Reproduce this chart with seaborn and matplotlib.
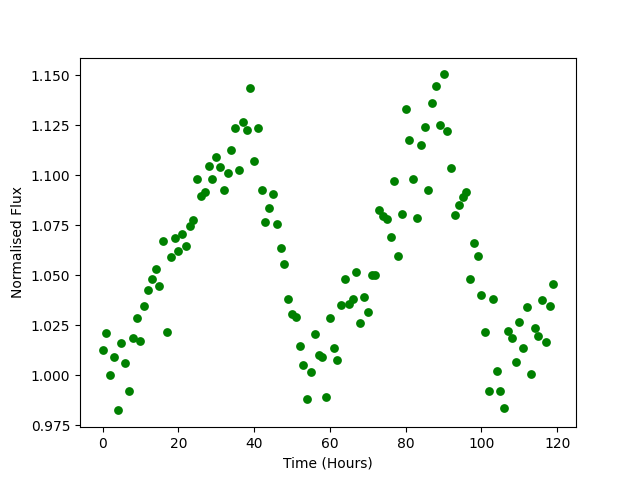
import matplotlib
matplotlib.use("Agg")
import matplotlib.pyplot as plt
import seaborn as sns
import pandas as pd

hours = list(range(120))
flux = [
    1.0125, 1.0213, 1.0000, 1.0090, 0.9825, 1.0163, 1.0060, 0.9920, 1.0185, 1.0285,
    1.0170, 1.0348, 1.0425, 1.0480, 1.0533, 1.0448, 1.0670, 1.0215, 1.0590, 1.0685,
    1.0623, 1.0705, 1.0645, 1.0748, 1.0775, 1.0980, 1.0897, 1.0918, 1.1048, 1.0980,
    1.1088, 1.1043, 1.0925, 1.1013, 1.1123, 1.1233, 1.1028, 1.1263, 1.1223, 1.1433,
    1.1073, 1.1233, 1.0928, 1.0768, 1.0838, 1.0908, 1.0758, 1.0638, 1.0558, 1.0383,
    1.0308, 1.0292, 1.0148, 1.0053, 0.9883, 1.0018, 1.0208, 1.0103, 1.0093, 0.9893,
    1.0288, 1.0138, 1.0078, 1.0353, 1.0483, 1.0358, 1.0383, 1.0518, 1.0263, 1.0393,
    1.0318, 1.0503, 1.0503, 1.0828, 1.0798, 1.0783, 1.0693, 1.0973, 1.0598, 1.0808,
    1.1328, 1.1173, 1.0983, 1.0788, 1.1148, 1.1238, 1.0928, 1.1358, 1.1443, 1.1248,
    1.1503, 1.1218, 1.1038, 1.0803, 1.0853, 1.0893, 1.0918, 1.0483, 1.0663, 1.0598,
    1.0403, 1.0218, 0.9923, 1.0383, 1.0023, 0.9923, 0.9838, 1.0223, 1.0188, 1.0068,
    1.0268, 1.0138, 1.0343, 1.0008, 1.0238, 1.0198, 1.0378, 1.0168, 1.0348, 1.0458,
]

df = pd.DataFrame({"Time (Hours)": hours, "Normalised Flux": flux})

fig, ax = plt.subplots(figsize=(6.4, 4.8), dpi=100)
sns.scatterplot(data=df, x="Time (Hours)", y="Normalised Flux", color="green",
                s=40, linewidth=0, ax=ax)
ax.set_xlabel("Time (Hours)")
ax.set_ylabel("Normalised Flux")
fig.savefig("out.png", dpi=100)
